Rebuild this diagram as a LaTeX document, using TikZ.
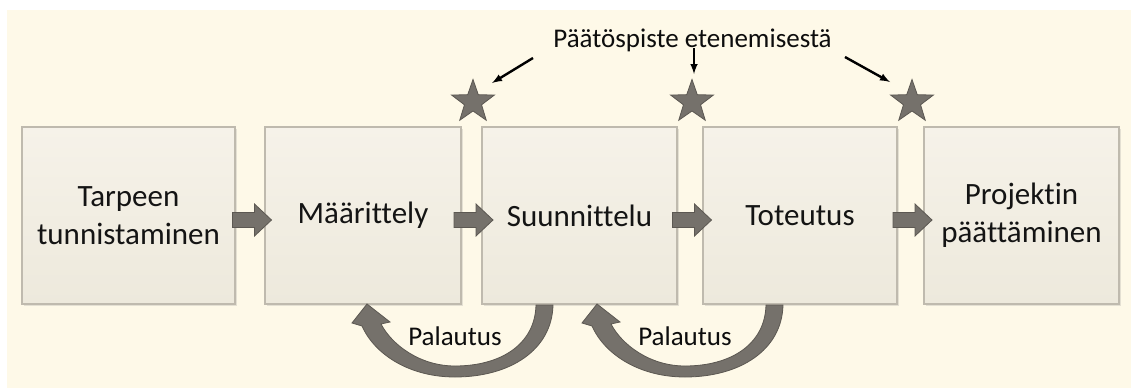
\documentclass[tikz,border=0pt]{standalone}
\usepackage{fontspec}
\setmainfont{Carlito}[Ligatures=NoCommon]
\usepackage{tikz}
\usetikzlibrary{arrows,shapes.geometric,shadows,calc}

\definecolor{paper}{HTML}{FEF9E8}
\definecolor{boxtop}{HTML}{F6F2E9}
\definecolor{boxbot}{HTML}{EDE9DC}
\definecolor{boxline}{HTML}{BFBAAE}
\definecolor{arrowgray}{HTML}{75716B}
\definecolor{arrowedge}{HTML}{5C5852}

\begin{document}
\begin{tikzpicture}[x=1pt, y=-1pt,
    phase/.style={rectangle, draw=boxline, line width=1.2pt, top color=boxtop, bottom color=boxbot,
        minimum height=177pt, align=center, font=\fontsize{31}{38}\selectfont, text=black!92,
        drop shadow={opacity=0.2, shadow xshift=1.5pt, shadow yshift=-1.5pt}},
    gate/.style={star, star points=5, star point ratio=2.5, minimum size=45pt, inner sep=0pt,
        fill=arrowgray, draw=arrowedge, line width=0.8pt},
    flow/.style={fill=arrowgray, draw=arrowedge, line width=0.8pt},
    pointer/.style={-latex, line width=2.4pt, black},
    note/.style={font=\fontsize{27}{32}\selectfont, text=black!95, anchor=base}]
\useasboundingbox (0,0) rectangle (1138,388);
\fill[paper] (7,10) rectangle (1131,388);

\node[phase, minimum width=213pt] (b1) at (128.5,215.5) {Tarpeen\\tunnistaminen};
\node[phase, minimum width=196pt] (b2) at (363,215.5) {Määrittely};
\node[phase, minimum width=195pt] (b3) at (579.5,215.5) {Suunnittelu};
\node[phase, minimum width=194pt] (b4) at (800,215.5) {Toteutus};
\node[phase, minimum width=195pt] (b5) at (1021.5,215.5) {Projektin\\päättäminen};

\foreach \a/\b in {b1/b2, b2/b3, b3/b4, b4/b5}
    \draw[flow] ($(\a.east)!0.5!(\b.west)+(2,4.5)$) ++(-19.5,-7.5) -- ++(22,0) -- ++(0,-8.5)
        -- ++(17,16) -- ++(-17,16) -- ++(0,-8.5) -- ++(-22,0) -- cycle;

\node[gate] (s1) at (473,102) {};
\node[gate] (s2) at (692,102) {};
\node[gate] (s3) at (912,102) {};

\node[note] (title) at (692.5,47) {Päätöspiste etenemisestä};
\coordinate (p1) at (533,58);
\coordinate (p2) at (694,48);
\coordinate (p3) at (845,57);
\draw[pointer] (p1) -- ([shift={(19,-19)}]s1.center);
\draw[pointer] (p2) -- ([shift={(2,-28)}]s2.center);
\draw[pointer] (p3) -- ([shift={(-22,-20)}]s3.center);

\foreach \dx/\n in {0/f1, 230/f2} {
    \begin{scope}[xshift=\dx]
    \draw[flow] (553,305) .. controls (552,350) and (510,377) .. (455,377)
        .. controls (410,377) and (375,355) .. (362,326)
        -- (352,323) -- (367,304) -- (390,322) -- (381,324)
        .. controls (392,345) and (420,366) .. (455,366)
        .. controls (500,366) and (535,345) .. (536,305) -- cycle;
    \node[note] (\n) at (455,345) {Palautus};
    \end{scope}
}
\end{tikzpicture}
\end{document}
